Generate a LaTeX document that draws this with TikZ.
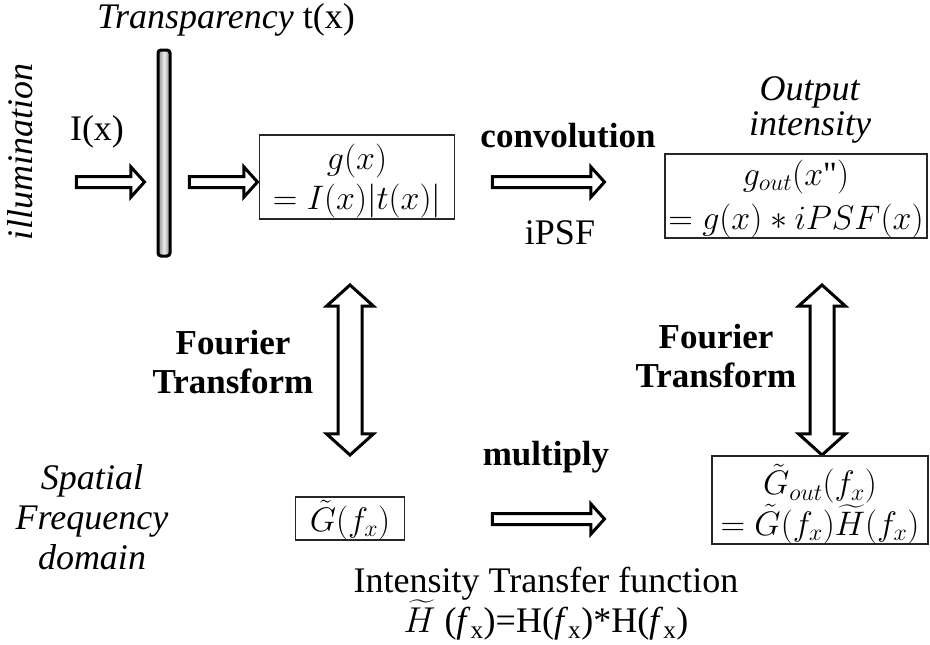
\RequirePackage{fix-cm}
\documentclass[tikz,border=0pt]{standalone}
\usepackage{amsmath}
\usepackage{fontspec}
\setmainfont{Liberation Serif}
\usetikzlibrary{shapes.arrows,calc}

\tikzset{
  lbl/.style={font=\fontsize{36}{40}\selectfont, align=center, inner sep=0pt},
  boldlbl/.style={lbl, font=\fontsize{35}{39}\selectfont\bfseries},
  eqbox/.style={lbl, font=\fontsize{34}{40}\selectfont, draw=black!85, line width=1.2pt},
  blockarrow/.style={single arrow, draw=black, line width=3pt, fill=white,
    inner xsep=0pt, inner ysep=4pt, single arrow head extend=9.5pt,
    single arrow tip angle=96, minimum height=#1},
  ftarrow/.style={double arrow, rotate=90, draw=black, line width=3pt, fill=white,
    inner xsep=0pt, inner ysep=10.5pt, double arrow head extend=11.5pt,
    double arrow tip angle=96, minimum height=170pt},
}

\begin{document}
\begin{tikzpicture}[x=1pt,y=-1pt]
  \useasboundingbox (0,0) rectangle (930,645);
  % object side
  \node[lbl] (transp) at (226,20) {\textit{Transparency} t(x)};
  \node[lbl,rotate=90] (illum) at (20,152) {\textit{illumination}};
  \node[lbl] (ix) at (97,132) {I(x)};
  \node[draw=black, line width=3pt, rounded corners=3pt, minimum width=12pt,
    minimum height=206pt, inner sep=0pt, left color=black!45,
    right color=black!45, middle color=black!8] (tbar) at (164,153) {};
  \node[blockarrow=68pt] (ain) at (108,182) {};
  \node[blockarrow=68pt] (aout) at (221,182) {};
  \node[eqbox, minimum width=195pt, minimum height=84pt] (gx) at (357,177)
    {\rule{0pt}{34pt}$g(x)$\\$=I(x)|t(x)|$};
  % convolution
  \node[boldlbl] (conv) at (568,136) {convolution};
  \node[blockarrow=112pt] (aconv) at (546,182) {};
  \node[lbl] (ipsf) at (560,233) {iPSF};
  \node[lbl, font=\fontsize{36}{35}\selectfont] (outlbl) at (810,110)
    {\textit{Output}\\\textit{intensity}};
  \node[eqbox, font=\fontsize{34}{44}\selectfont, minimum width=262pt,
    minimum height=84pt] (gout) at (796,196)
    {\rule{0pt}{31pt}$g_{out}(x\text{\textquotedbl})$\\$=g(x)*iPSF(x)$};
  % Fourier transforms
  \node[ftarrow] (ftl) at (350,370) {};
  \node[ftarrow] (ftr) at (822,370) {};
  \node[boldlbl] (ftltxt) at (233,362) {Fourier\\Transform};
  \node[boldlbl] (ftrtxt) at (716,356) {Fourier\\Transform};
  % frequency side
  \node[lbl] (sfd) at (92,517)
    {\textit{Spatial}\\\textit{Frequency}\\\textit{domain}};
  \node[eqbox, minimum width=109pt, minimum height=43pt] (gf) at (350,518.5)
    {\rule{0pt}{34pt}$\tilde{G}(f_x)$};
  \node[boldlbl] (mult) at (546,457) {multiply};
  \node[blockarrow=112pt] (amult) at (546,519) {};
  \node[eqbox, font=\fontsize{34}{38}\selectfont, minimum width=216pt,
    minimum height=86pt] (gfout) at (820,500)
    {\rule{0pt}{39pt}$\tilde{G}_{out}(f_x)$\\$=\tilde{G}(f_x)\widetilde{H}(f_x)$};
  \node[lbl, font=\fontsize{36}{40}\selectfont] (itf) at (546,604)
    {Intensity Transfer function\\\smash{$\widetilde{H}$} (\textit{f}\textsubscript{x})=H(\textit{f}\textsubscript{x})*H(\textit{f}\textsubscript{x})};
\end{tikzpicture}
\end{document}
